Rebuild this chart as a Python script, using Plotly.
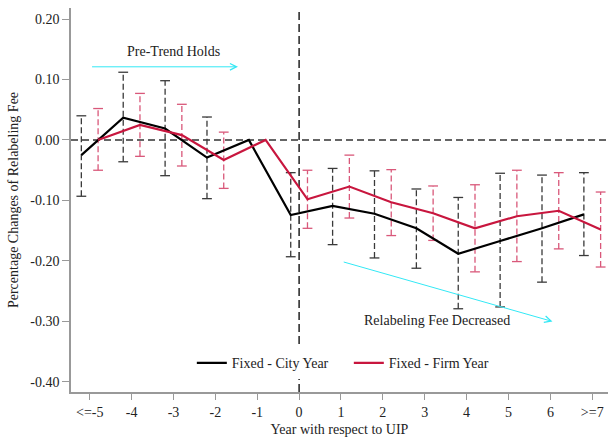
import plotly.graph_objects as go

# ---- data ----
categories = [-5, -4, -3, -2, -1, 0, 1, 2, 3, 4, 5, 6, 7]
tick_labels = ["<=-5", "-4", "-3", "-2", "-1", "0", "1", "2", "3", "4", "5", "6", ">=7"]

city_est = [-0.025, 0.037, 0.019, -0.029, 0.0, -0.124, -0.109, -0.122, -0.146, -0.188, -0.167, -0.146, -0.123]
city_lo = [-0.093, -0.036, -0.059, -0.097, None, -0.193, -0.173, -0.195, -0.212, -0.279, -0.276, -0.235, -0.191]
city_hi = [0.040, 0.112, 0.098, 0.038, None, -0.054, -0.047, -0.051, -0.081, -0.095, -0.055, -0.058, -0.054]

firm_est = [0.0, 0.025, 0.008, -0.033, 0.0, -0.098, -0.077, -0.103, -0.121, -0.146, -0.126, -0.117, -0.148]
firm_lo = [-0.050, -0.027, -0.043, -0.080, None, -0.146, -0.129, -0.158, -0.166, -0.218, -0.201, -0.180, -0.210]
firm_hi = [0.052, 0.077, 0.059, 0.013, None, -0.050, -0.025, -0.049, -0.076, -0.074, -0.050, -0.054, -0.086]

y_ticks = [0.20, 0.10, 0.00, -0.10, -0.20, -0.30, -0.40]
y_tick_labels = ["0.20", "0.10", "0.00", "-0.10", "-0.20", "-0.30", "-0.40"]

offset = 0.2
FONT = "Liberation Serif"
BLACK = "#000000"
CITY_CI = "#3a3a3a"
RED = "#C8163E"
FIRM_CI = "#D9587A"
CYAN = "#33E8F5"
TEXT = "#222222"

fig = go.Figure()


def add_ci(xs, lo, hi, color):
    lx, ly, cx, cy = [], [], [], []
    for x, a, b in zip(xs, lo, hi):
        if a is None or b is None:
            continue
        lx += [x, x, None]
        ly += [a, b, None]
        cx += [x, x]
        cy += [a, b]
    fig.add_trace(go.Scatter(x=lx, y=ly, mode="lines", showlegend=False, hoverinfo="skip",
                             line=dict(color=color, width=1.3, dash="6px,3px")))
    fig.add_trace(go.Scatter(x=cx, y=cy, mode="markers", showlegend=False, hoverinfo="skip",
                             marker=dict(symbol="line-ew-open", size=7, color=color,
                                         line=dict(color=color, width=1.3))))


city_x = [c - offset for c in categories]
firm_x = [c + offset for c in categories]

add_ci(city_x, city_lo, city_hi, CITY_CI)
add_ci(firm_x, firm_lo, firm_hi, FIRM_CI)

fig.add_trace(go.Scatter(x=city_x, y=city_est, mode="lines", name="Fixed - City Year",
                         line=dict(color=BLACK, width=2.2)))
fig.add_trace(go.Scatter(x=firm_x, y=firm_est, mode="lines", name="Fixed - Firm Year",
                         line=dict(color=RED, width=2.2)))

# reference lines
fig.add_shape(type="line", xref="paper", x0=0, x1=1, yref="y", y0=0, y1=0,
              line=dict(color="#333333", width=1.5, dash="7px,4px"), layer="below")
fig.add_shape(type="line", xref="x", x0=0, x1=0, yref="paper", y0=0, y1=1,
              line=dict(color="#222222", width=1.5, dash="8px,4px"), layer="below")

# annotations with arrows
fig.add_annotation(x=-1.46, y=0.121, ax=-4.98, ay=0.121, xref="x", yref="y", axref="x", ayref="y",
                   text="", showarrow=True, arrowhead=5, arrowsize=1.3, arrowwidth=1, arrowcolor=CYAN)
fig.add_annotation(x=-3.0, y=0.147, xref="x", yref="y", text="Pre-Trend Holds", showarrow=False,
                   font=dict(family=FONT, size=14, color=TEXT))
fig.add_annotation(x=6.05, y=-0.300, ax=1.03, ay=-0.201, xref="x", yref="y", axref="x", ayref="y",
                   text="", showarrow=True, arrowhead=5, arrowsize=1.3, arrowwidth=1, arrowcolor=CYAN)
fig.add_annotation(x=3.3, y=-0.2985, xref="x", yref="y", text="Relabeling Fee Decreased", showarrow=False,
                   font=dict(family=FONT, size=14, color=TEXT))

fig.update_layout(
    width=608, height=440,
    margin=dict(l=71, r=0, t=8, b=48),
    paper_bgcolor="white", plot_bgcolor="white",
    font=dict(family=FONT, size=14, color=TEXT),
    legend=dict(orientation="h", x=0.225, y=0.075, xanchor="left", yanchor="middle",
                bgcolor="white", font=dict(family=FONT, size=14, color=TEXT),
                itemwidth=30, tracegroupgap=0, entrywidth=112, entrywidthmode="pixels"),
    xaxis=dict(range=[-5.447, 7.376], tickvals=categories, ticktext=tick_labels,
               showgrid=False, zeroline=False, showline=True, linecolor="#999999", linewidth=1.5,
               ticks="outside", ticklen=6, tickcolor="#999999", tickwidth=1,
               tickfont=dict(family=FONT, size=14, color=TEXT),
               title=dict(text="Year with respect to UIP", standoff=6,
                          font=dict(family=FONT, size=14, color=TEXT))),
    yaxis=dict(range=[-0.4166, 0.2182], tickvals=y_ticks, ticktext=y_tick_labels,
               showgrid=False, zeroline=False, showline=True, linecolor="#999999", linewidth=1.5,
               ticks="outside", ticklen=7, tickcolor="#999999", tickwidth=1,
               tickfont=dict(family=FONT, size=14, color=TEXT),
               title=dict(text="Percentage Changes of Relabeling Fee", standoff=8,
                          font=dict(family=FONT, size=14, color=TEXT))),
)

fig.write_html("out.html")
